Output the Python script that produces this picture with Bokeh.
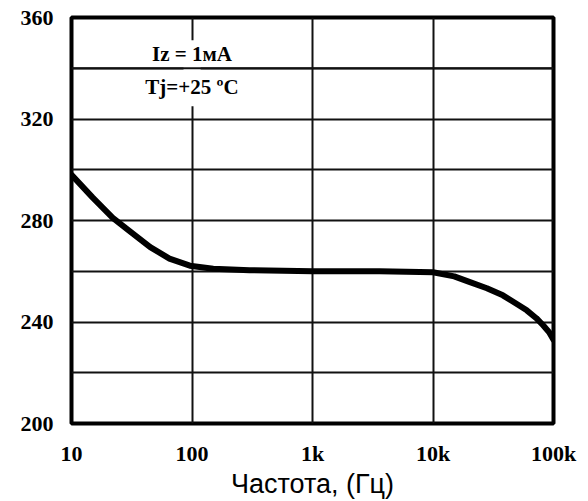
from bokeh.plotting import figure
from bokeh.models import FixedTicker, Span, Label
from bokeh.embed import file_html
from bokeh.resources import INLINE

# ---- data ----
freq_hz = [10, 15, 22, 30, 45, 65, 96, 150, 300, 1000, 3600, 10000,
           15000, 20000, 28000, 38000, 50000, 60000, 72000, 82000, 92000, 100000]
value = [298, 289, 281, 276, 269.5, 265, 262.2, 261, 260.4, 260, 260, 259.6,
         258, 255.8, 253.3, 250.5, 247, 244.6, 241.5, 238.7, 236, 233]

x_ticks = [10, 100, 1000, 10000, 100000]
x_tick_labels = ["10", "100", "1k", "10k", "100k"]
y_ticks = [200, 240, 280, 320, 360]
y_grid = [200, 220, 240, 260, 280, 300, 320, 340, 360]
x_title = "Частота, (Гц)"
note_1 = "Iz = 1мА"
note_2 = "Tj=+25 ºC"

SERIF = "Liberation Serif"
INK = "#111111"

p = figure(width=584, height=501, x_axis_type="log",
           x_range=(10, 100000), y_range=(200, 360),
           output_backend="svg", toolbar_location=None,
           min_border_left=71, min_border_right=31,
           min_border_top=17, min_border_bottom=78)

p.outline_line_color = "black"
p.outline_line_width = 4
p.background_fill_color = "white"
p.border_fill_color = "white"

# grids
p.xgrid.ticker = FixedTicker(ticks=x_ticks)
p.ygrid.ticker = FixedTicker(ticks=y_grid)
for g in (p.xgrid, p.ygrid):
    g.grid_line_color = INK
    g.grid_line_width = 2
    g.grid_line_alpha = 1.0
p.xgrid.minor_grid_line_color = None

# axes
p.xaxis.ticker = FixedTicker(ticks=x_ticks)
p.xaxis.major_label_overrides = {t: l for t, l in zip(x_ticks, x_tick_labels)}
p.yaxis.ticker = FixedTicker(ticks=y_ticks)
for ax in (p.xaxis, p.yaxis):
    ax.axis_line_color = None
    ax.major_tick_line_color = None
    ax.minor_tick_line_color = None
    ax.major_tick_out = 0
    ax.major_tick_in = 0
    ax.major_label_text_font = SERIF
    ax.major_label_text_font_style = "bold"
    ax.major_label_text_font_size = "22px"
    ax.major_label_text_color = "black"
p.yaxis.major_label_standoff = 18
p.xaxis.major_label_standoff = 17

p.xaxis.axis_label = x_title
p.xaxis.axis_label_text_font = "Liberation Sans"
p.xaxis.axis_label_text_font_style = "normal"
p.xaxis.axis_label_text_font_size = "27px"
p.xaxis.axis_label_text_color = "black"
p.xaxis.axis_label_standoff = 0

# white patch behind notes interrupting the 100 Hz grid line
p.quad(left=[85], right=[118], bottom=[325], top=[351],
       fill_color="white", line_color=None)
p.add_layout(Span(location=340, dimension="width", line_color=INK, line_width=2))

# curve
p.line(freq_hz, value, line_color="black", line_width=6, line_join="round", line_cap="round")

# notes
for txt, yy in ((note_1, 345.5), (note_2, 332.5)):
    p.add_layout(Label(x=100, y=yy, text=txt, text_align="center", text_baseline="middle",
                       text_font=SERIF, text_font_style="bold", text_font_size="21px",
                       text_color="black"))

open("out.html", "w").write(file_html(p, INLINE))
